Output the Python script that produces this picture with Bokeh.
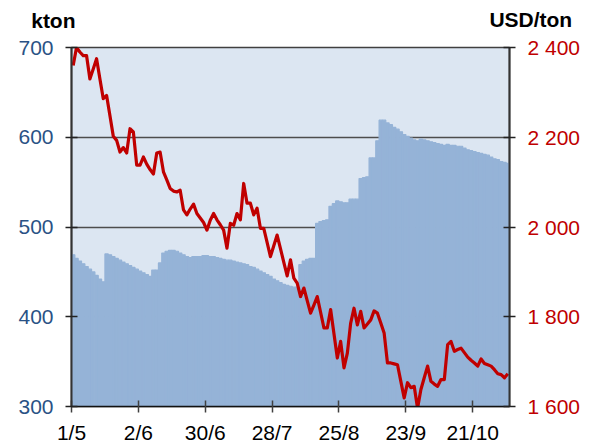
from bokeh.plotting import figure
from bokeh.models import Range1d, LinearAxis, FixedTicker, Label
from bokeh.embed import file_html
from bokeh.resources import INLINE

# LME-style daily series, trading days from 1/5
stocks_kton = [
    469, 465, 462, 459, 456, 453, 450, 446, 442, 439,
    470, 469, 467, 465, 463, 461, 459, 457, 455, 453,
    451, 449, 447, 445, 452, 452, 460, 471, 473, 474,
    474, 473, 471, 469, 467, 466, 467, 467, 467, 468,
    468, 467, 467, 466, 465, 464, 463, 463, 462, 461,
    460, 459, 458, 456, 455, 453, 451, 449, 447, 445,
    442, 440, 438, 436, 435, 434, 433, 433, 458, 462,
    464, 465, 465, 504, 506, 507, 508, 523, 526, 529,
    528, 527, 527, 531, 531, 531, 554, 555, 556, 577,
    577, 596, 619, 619, 616, 614, 611, 609, 606, 603,
    601, 599, 597, 596, 598, 597, 596, 595, 594, 593,
    592, 591, 592, 591, 591, 590, 590, 588, 586, 585,
    584, 583, 582, 581, 580, 578, 576, 575, 573, 572,
    571,
]

price_usd = [
    2360, 2400, 2390, 2382, 2382, 2330, 2352, 2375, 2330, 2286,
    2293, 2248, 2202, 2193, 2167, 2177, 2165, 2219, 2212, 2138,
    2138, 2156, 2140, 2128, 2118, 2165, 2167, 2123, 2105, 2086,
    2080, 2078, 2082, 2038, 2027, 2040, 2051, 2030, 2020, 2010,
    1993, 2015, 2030, 2016, 2005, 1993, 1953, 2008, 2004, 2030,
    2016, 2097, 2053, 2053, 2027, 2042, 1997, 1997, 1966, 1934,
    1958, 1982, 1952, 1921, 1891, 1927, 1886, 1875, 1845, 1864,
    1836, 1808, 1826, 1845, 1810, 1775, 1775, 1816, 1762, 1708,
    1745, 1686, 1719, 1786, 1819, 1782, 1812, 1775, 1784, 1793,
    1813, 1808, 1786, 1764, 1697, 1697, 1695, 1693, 1656, 1619,
    1653, 1642, 1645, 1596, 1638, 1664, 1690, 1656, 1650, 1645,
    1660, 1660, 1738, 1745, 1723, 1727, 1730, 1720, 1710, 1703,
    1697, 1690, 1706, 1696, 1693, 1690, 1682, 1673, 1671, 1664,
    1673,
]

x_tick_pos = [0, 20, 40, 60, 80, 100, 120]
x_tick_labels = ["1/5", "2/6", "30/6", "28/7", "25/8", "23/9", "21/10"]
left_ticks = [300, 400, 500, 600, 700]
right_ticks = [1600, 1800, 2000, 2200, 2400]
right_tick_labels = ["1 600", "1 800", "2 000", "2 200", "2 400"]
left_title = "kton"
right_title = "USD/ton"

n_days = len(price_usd)
days = [i + 0.5 for i in range(n_days)]

FONT = "Liberation Sans"
BLUE_TXT = "#2A5285"
RED = "#C00000"

p = figure(width=599, height=446, output_backend="svg", toolbar_location=None,
           x_range=Range1d(0, n_days), y_range=Range1d(left_ticks[0], left_ticks[-1]),
           min_border_left=71, min_border_right=90, min_border_top=47, min_border_bottom=39,
           background_fill_color="#DCE6F2", border_fill_color="white")
p.extra_y_ranges = {"price": Range1d(right_ticks[0], right_ticks[-1])}

p.outline_line_color = "#404040"
p.outline_line_width = 1.5

p.xgrid.visible = False
p.ygrid.ticker = FixedTicker(ticks=left_ticks)
p.ygrid.grid_line_color = "#4D4D4D"
p.ygrid.grid_line_width = 1.5

p.vbar(x=days, top=stocks_kton, bottom=0, width=1.0,
       fill_color="#95B3D7", line_color="#95B3D7", line_width=1.2)
p.line(days, price_usd, y_range_name="price", line_color=RED, line_width=3.2,
       line_join="round")

# left axis
ya = p.yaxis[0]
ya.ticker = FixedTicker(ticks=left_ticks)
ya.axis_line_color = "#333333"
ya.axis_line_width = 2
ya.major_tick_in = 6
ya.major_tick_out = 6
ya.major_tick_line_color = "#222222"
ya.major_tick_line_width = 1.5
ya.minor_tick_line_color = None
ya.major_label_standoff = 12
ya.major_label_text_font = FONT
ya.major_label_text_font_size = "21px"
ya.major_label_text_color = BLUE_TXT

# right axis
ra = LinearAxis(y_range_name="price", ticker=FixedTicker(ticks=right_ticks),
                major_label_overrides=dict(zip(right_ticks, right_tick_labels)))
ra.axis_line_color = "#333333"
ra.axis_line_width = 2
ra.major_tick_in = 6
ra.major_tick_out = 6
ra.major_tick_line_color = "#222222"
ra.major_tick_line_width = 1.5
ra.minor_tick_line_color = None
ra.major_label_standoff = 12
ra.major_label_text_font = FONT
ra.major_label_text_font_size = "21px"
ra.major_label_text_color = RED
p.add_layout(ra, "right")

# bottom axis
xa = p.xaxis[0]
xa.ticker = FixedTicker(ticks=x_tick_pos)
xa.major_label_overrides = dict(zip(x_tick_pos, x_tick_labels))
xa.axis_line_color = "#111111"
xa.axis_line_width = 1.5
xa.major_tick_in = 6
xa.major_tick_out = 6
xa.major_tick_line_color = "#404040"
xa.major_tick_line_width = 1.5
xa.minor_tick_line_color = None
xa.major_label_standoff = 8
xa.major_label_text_font = FONT
xa.major_label_text_font_size = "21px"
xa.major_label_text_color = "#000000"

# unit headers, each in its own panel above the frame (panels are not clipped)
lab_right = Label(x=500.7, y=27.8, x_units="screen", y_units="screen", text=right_title,
                  text_font=FONT, text_font_size="21px", text_font_style="bold",
                  text_color="#000000", text_align="right", text_baseline="alphabetic")
lab_left = Label(x=-40.3, y=3.8, x_units="screen", y_units="screen", text=left_title,
                 text_font=FONT, text_font_size="21px", text_font_style="bold",
                 text_color="#000000", text_align="left", text_baseline="alphabetic")
p.add_layout(lab_right, "above")
p.add_layout(lab_left, "above")

open("out.html", "w").write(file_html(p, INLINE))
